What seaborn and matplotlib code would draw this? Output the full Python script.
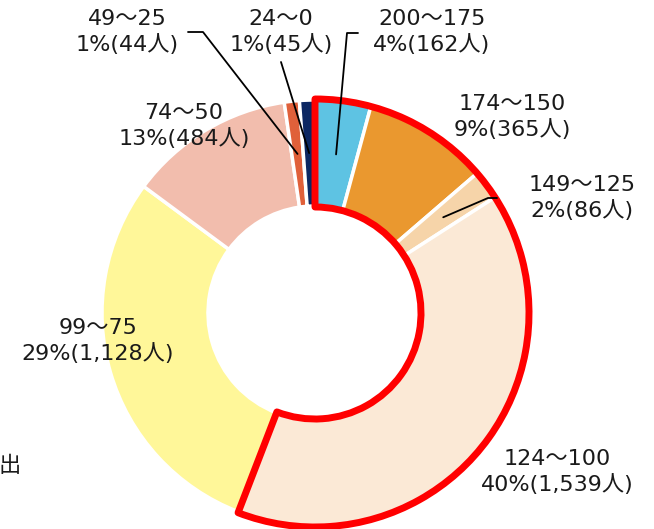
import numpy as np
import matplotlib
matplotlib.use("Agg")
import matplotlib.pyplot as plt
from matplotlib.patches import Wedge
import seaborn as sns

# ---- data ----
ranges = ["200～175", "174～150", "149～125", "124～100",
          "99～75", "74～50", "49～25", "24～0"]
counts = [162, 365, 86, 1539, 1128, 484, 44, 45]
pct_labels = ["4%", "9%", "2%", "40%", "29%", "13%", "1%", "1%"]
colors = ["#5EC3E3", "#EA982F", "#F6D4A9", "#FBE9D6",
          "#FFF799", "#F2BDAD", "#E0603A", "#0C2762"]
n_outlined = 4  # first four groups framed in red

# ---- layout (pixel space) ----
W, H = 654, 529
cx, cy = 315, H - 313
R, ring = 213, 106

sns.set_theme(style="white")
plt.rcParams["font.family"] = ["DejaVu Sans", "Noto Sans CJK JP"]

fig = plt.figure(figsize=(W / 100, H / 100), dpi=100)
ax = fig.add_axes([0, 0, 1, 1])

ax.pie(counts, colors=colors, startangle=90, counterclock=False,
       center=(cx, cy), radius=R, frame=True,
       wedgeprops=dict(width=ring, edgecolor="white", linewidth=2.5))
ax.set_xlim(0, W)
ax.set_ylim(0, H)
ax.set_aspect("equal")
ax.axis("off")

total = sum(counts)
frac = np.array(counts) / total
cum = np.cumsum(frac)

# red frame around the first groups
end_ang = 90 - 360 * cum[n_outlined - 1]
ax.add_patch(Wedge((cx, cy), R + 1, end_ang, 90, width=ring + 2, fill=False,
                   edgecolor="#FF0000", linewidth=5, joinstyle="round", zorder=5))

# label positions (pixel coords, y from top) and leader paths
label_pos = [(432, 32), (512, 117), (582, 198), (557, 472),
             (98, 341), (184, 126), (127, 32), (281, 32)]
leaders = {0: [(347, 33), (358, 33)],
           2: [(488, 198), (497, 198)],
           6: [(203, 32), (188, 32)],
           7: [(281, 62)]}

mid_r = R - ring / 2
for i, (rg, c, p) in enumerate(zip(ranges, counts, pct_labels)):
    x, y = label_pos[i]
    ax.text(x, H - y, f"{rg}\n{p}({c:,}人)", ha="center", va="center",
            fontsize=16, linespacing=1.3, color="#1a1a1a", zorder=6)
    if i in leaders:
        mid = np.deg2rad(90 - 360 * (cum[i] - frac[i] / 2))
        xs = [cx + mid_r * np.cos(mid)] + [pt[0] for pt in leaders[i]]
        ys = [cy + mid_r * np.sin(mid)] + [H - pt[1] for pt in leaders[i]]
        ax.plot(xs, ys, color="black", lw=1.3, zorder=7)

ax.text(21, H - 466, "出", ha="right", va="center", fontsize=16,
        family=["Noto Sans CJK JP"], color="#1a1a1a")

fig.savefig("out.png", dpi=100)
